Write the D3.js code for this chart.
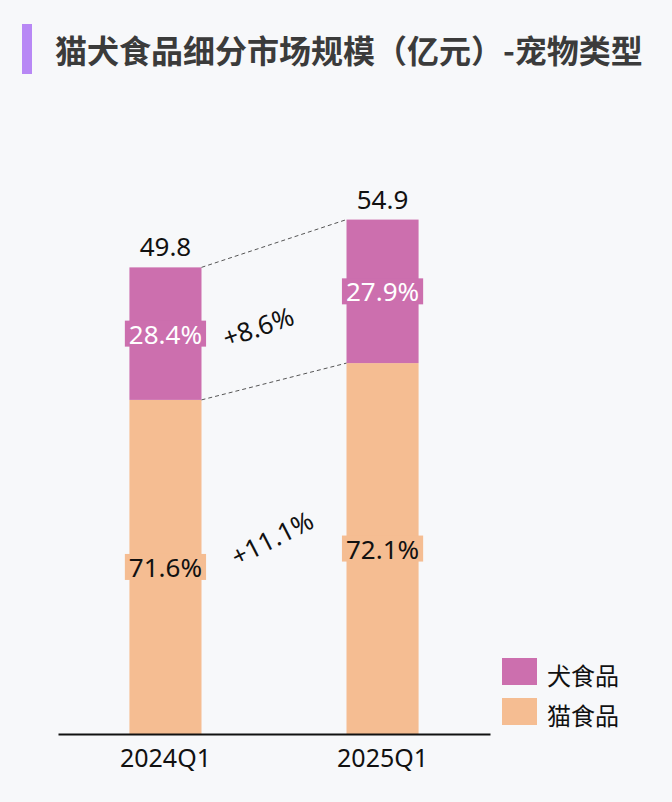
<!DOCTYPE html>
<html>
<head>
<meta charset="utf-8">
<script src="https://cdn.jsdelivr.net/npm/d3@7"></script>
<style>
  html, body { margin: 0; padding: 0; background: #f7f8fa; }
  svg { display: block; }
  text { font-family: "Noto Sans", "Open Sans", sans-serif; }
  .titulo { font-family: "Noto Sans CJK SC", sans-serif; font-weight: 700; fill: #3b3b3b; }
  .cjk { font-family: "Noto Sans CJK SC", sans-serif; }
</style>
</head>
<body>
<div id="grafico"></div>
<script>
// Datos del grafico
const categorias = ["2024Q1", "2025Q1"]
const totales = [49.8, 54.9]
const pctPerro = [28.4, 27.9]
const pctGato = [71.6, 72.1]
const series = ["犬食品", "猫食品"]
const crecimiento = ["+8.6%", "+11.1%"]
const titulo = "猫犬食品细分市场规模（亿元）-宠物类型"

const anchoTotal = 672
const altoTotal = 802
const colores = { "犬食品": "#cc6fae", "猫食品": "#f5bd92" }

const svg = d3.select("#grafico")
  .append("svg")
  .attr("width", anchoTotal)
  .attr("height", altoTotal)

svg.append("rect")
  .attr("width", anchoTotal)
  .attr("height", altoTotal)
  .attr("fill", "#f7f8fa")

// Titulo con barra morada
svg.append("rect")
  .attr("x", 22).attr("y", 24)
  .attr("width", 10).attr("height", 50)
  .attr("fill", "#b888f5")

svg.append("text")
  .attr("class", "titulo")
  .attr("x", 55).attr("y", 49)
  .attr("dominant-baseline", "central")
  .style("font-size", "32px")
  .text(titulo)

// Tabla apilada: gato abajo, perro arriba
const datos = categorias.map((c, i) => ({
  cat: c,
  total: totales[i],
  gato: totales[i] * pctGato[i] / 100,
  perro: totales[i] * pctPerro[i] / 100,
  pGato: pctGato[i],
  pPerro: pctPerro[i],
}))

const x = d3.scaleBand()
  .domain(categorias)
  .range([58, 490])
  .paddingInner(0.668)
  .paddingOuter(0.329)

const y = d3.scaleLinear().domain([0, 60]).range([734, 734 - 60 * 9.37])

const g = svg.append("g")

// Barras gato
g.selectAll(".gato").data(datos).enter().append("rect")
  .attr("x", d => x(d.cat))
  .attr("y", d => y(d.gato))
  .attr("width", x.bandwidth())
  .attr("height", d => y(0) - y(d.gato))
  .attr("fill", colores["猫食品"])

// Barras perro
g.selectAll(".perro").data(datos).enter().append("rect")
  .attr("x", d => x(d.cat))
  .attr("y", d => y(d.gato + d.perro))
  .attr("width", x.bandwidth())
  .attr("height", d => y(d.gato) - y(d.gato + d.perro))
  .attr("fill", colores["犬食品"])

// Lineas punteadas entre barras
const x0 = x(categorias[0]) + x.bandwidth()
const x1 = x(categorias[1])
const lineas = [
  [datos[0].total, datos[1].total],
  [datos[0].gato, datos[1].gato],
]
g.selectAll(".punteada").data(lineas).enter().append("line")
  .attr("x1", x0).attr("y1", d => y(d[0]))
  .attr("x2", x1).attr("y2", d => y(d[1]))
  .attr("stroke", "#555")
  .attr("stroke-width", 1)
  .attr("stroke-dasharray", "4,3")

// Totales arriba
g.selectAll(".total").data(datos).enter().append("text")
  .attr("x", d => x(d.cat) + x.bandwidth() / 2)
  .attr("y", d => y(d.total) - 11)
  .attr("text-anchor", "middle")
  .style("font-size", "26px")
  .attr("fill", "#111")
  .text(d => d.total.toFixed(1))

// Etiquetas con fondo
const etiqueta = (cy, cx, texto, fondo, color) => {
  const grupo = g.append("g")
  const rect = grupo.append("rect").attr("fill", fondo)
  const t = grupo.append("text")
    .attr("x", cx).attr("y", cy)
    .attr("text-anchor", "middle")
    .attr("dominant-baseline", "central")
    .style("font-size", "26px")
    .attr("fill", color)
    .text(texto)
  const w = t.node().getComputedTextLength() + 8
  rect.attr("x", cx - w / 2).attr("y", cy - 13)
    .attr("width", w).attr("height", 26)
}

datos.forEach(d => {
  const cx = x(d.cat) + x.bandwidth() / 2
  etiqueta((y(d.gato) + y(d.gato + d.perro)) / 2, cx, d.pPerro.toFixed(1) + "%", colores["犬食品"], "#fff")
  etiqueta((y(0) + y(d.gato)) / 2, cx, d.pGato.toFixed(1) + "%", colores["猫食品"], "#111")
})

// Crecimiento rotado
const xm = (x0 + x1) / 2
const posCrec = [
  { y: (y(datos[0].gato + datos[0].perro / 2) + y(datos[1].gato + datos[1].perro / 2)) / 2, dx: -16, dy: 14, rot: -19 },
  { y: (y(datos[0].gato / 2) + y(datos[1].gato / 2)) / 2, dx: -2, dy: -20, rot: -27 },
]
g.selectAll(".crec").data(crecimiento).enter().append("text")
  .attr("transform", (d, i) => `translate(${xm + posCrec[i].dx}, ${posCrec[i].y + posCrec[i].dy}) rotate(${posCrec[i].rot})`)
  .attr("text-anchor", "middle")
  .attr("dominant-baseline", "central")
  .style("font-size", "26px")
  .attr("fill", "#111")
  .text(d => d)

// Eje X
const ejeX = svg.append("g")
  .attr("transform", `translate(0, ${y(0)})`)
  .call(d3.axisBottom(x).tickSize(0).tickPadding(15))
ejeX.select(".domain").attr("stroke", "#111").attr("stroke-width", 2)
ejeX.selectAll("text").style("font-size", "25px").attr("fill", "#111")
  .style("font-family", '"Noto Sans", sans-serif')

// Leyenda
const leyenda = svg.append("g")
  .selectAll("g").data(series).enter().append("g")
  .attr("transform", (d, i) => `translate(502, ${658 + i * 40})`)
leyenda.append("rect")
  .attr("width", 35).attr("height", 27)
  .attr("fill", d => colores[d])
leyenda.append("text")
  .attr("class", "cjk")
  .attr("x", 45).attr("y", 16)
  .attr("dominant-baseline", "central")
  .style("font-size", "24px")
  .attr("fill", "#111")
  .text(d => d)
</script>
</body>
</html>
